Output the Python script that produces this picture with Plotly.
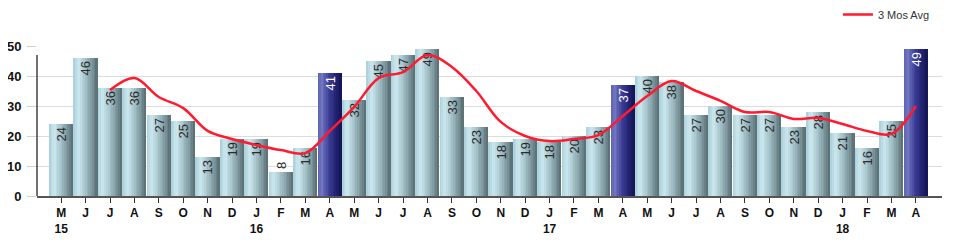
import plotly.graph_objects as go

months = ["M", "J", "J", "A", "S", "O", "N", "D", "J", "F", "M", "A",
          "M", "J", "J", "A", "S", "O", "N", "D", "J", "F", "M", "A",
          "M", "J", "J", "A", "S", "O", "N", "D", "J", "F", "M", "A"]
years = ["15", "", "", "", "", "", "", "", "16", "", "", "",
         "", "", "", "", "", "", "", "", "17", "", "", "",
         "", "", "", "", "", "", "", "", "18", "", "", ""]
values = [24, 46, 36, 36, 27, 25, 13, 19, 19, 8, 16, 41,
          32, 45, 47, 49, 33, 23, 18, 19, 18, 20, 23, 37,
          40, 38, 27, 30, 27, 27, 23, 28, 21, 16, 25, 49]
highlight = [False] * 11 + [True] + [False] * 11 + [True] + [False] * 11 + [True]
avg_start = 2
avg3 = [35.3, 39.3, 33.0, 29.3, 21.7, 19.0, 17.0, 15.3, 14.3, 21.7,
        29.7, 39.3, 41.3, 47.0, 43.0, 35.0, 24.7, 20.0, 18.3, 19.0,
        20.3, 26.7, 33.3, 38.3, 35.0, 31.7, 28.0, 28.0, 25.7, 26.0,
        24.0, 21.7, 20.7, 30.0]
avg_name = "3 Mos Avg"

x = list(range(len(values)))
ticktext = [f"<b>{m}</b><br><b>{y}</b>" if y else f"<b>{m}</b>" for m, y in zip(months, years)]

# gradient stops (fraction across bar width -> colour)
normal_grad = [(0.0, (168, 206, 216)), (0.22, (204, 232, 240)), (0.5, (166, 196, 203)),
               (0.78, (125, 152, 158)), (1.0, (88, 108, 113))]
navy_grad = [(0.0, (92, 96, 176)), (0.18, (112, 117, 190)), (0.5, (58, 60, 150)),
             (0.8, (32, 33, 110)), (1.0, (20, 20, 85))]


def grad_col(stops, t):
    for (t0, c0), (t1, c1) in zip(stops[:-1], stops[1:]):
        if t <= t1:
            f = (t - t0) / (t1 - t0) if t1 > t0 else 0
            c = [round(a + (b - a) * f) for a, b in zip(c0, c1)]
            return f"rgb({c[0]},{c[1]},{c[2]})"
    c = stops[-1][1]
    return f"rgb({c[0]},{c[1]},{c[2]})"


fig = go.Figure()
W = 0.965
N = 14
for k in range(N):
    t = (k + 0.5) / N
    cols = [grad_col(navy_grad if h else normal_grad, t) for h in highlight]
    fig.add_trace(go.Bar(
        x=x, y=values, width=W / N * 1.08, offset=-W / 2 + k * W / N,
        marker=dict(color=cols, line=dict(width=0)),
        showlegend=False, hoverinfo="skip"))

text_pos = ["outside" if v < 10 else "inside" for v in values]
text_cols = ["white" if h else "#2a2a2a" for h in highlight]
fig.add_trace(go.Bar(
    x=x, y=values, width=W,
    marker=dict(color="rgba(0,0,0,0)", line=dict(width=0)),
    text=[str(v) for v in values], textposition=text_pos,
    insidetextanchor="end", textangle=-90,
    textfont=dict(family="Liberation Sans, Arial", size=13, color=text_cols),
    outsidetextfont=dict(family="Liberation Sans, Arial", size=13, color="#2a2a2a"),
    cliponaxis=False, showlegend=False, hoverinfo="skip"))

fig.add_trace(go.Scatter(
    x=x[avg_start:], y=avg3, mode="lines", name=avg_name,
    line=dict(color="#ff1a30", width=2.5, shape="spline", smoothing=1.0)))

fig.update_layout(
    width=953, height=232,
    margin=dict(l=29, r=19, t=38, b=44, autoexpand=False),
    paper_bgcolor="white", plot_bgcolor="white",
    barmode="overlay", bargap=0,
    font=dict(family="Liberation Sans, Arial", color="#111"),
    legend=dict(x=0.885, y=1.21, xanchor="left", yanchor="middle",
                bgcolor="rgba(0,0,0,0)",
                font=dict(family="Liberation Sans, Arial", size=11, color="#333")),
    xaxis=dict(range=[-0.99, 36.07], tickmode="array", tickvals=x, ticktext=ticktext,
               showgrid=False, zeroline=False, showline=True, linecolor="#555", linewidth=1.5,
               ticks="outside", ticklen=5, tickcolor="#333",
               tickfont=dict(size=12, color="#111")),
    yaxis=dict(range=[0, 50], tickvals=[0, 10, 20, 30, 40, 50],
               ticktext=[f"<b>{v}</b>" for v in [0, 10, 20, 30, 40, 50]],
               showgrid=True, gridcolor="#dcdcdc", gridwidth=1, zeroline=False,
               showline=False, ticks="outside", ticklen=9, tickcolor="#d0d0d0",
               ticklabelstandoff=3,
               tickfont=dict(size=13, color="#111")),
)
fig.add_shape(type="line", xref="paper", yref="y", x0=0, x1=0, y0=0, y1=47,
              line=dict(color="#111", width=1.2), layer="above")

fig.write_html("out.html")
